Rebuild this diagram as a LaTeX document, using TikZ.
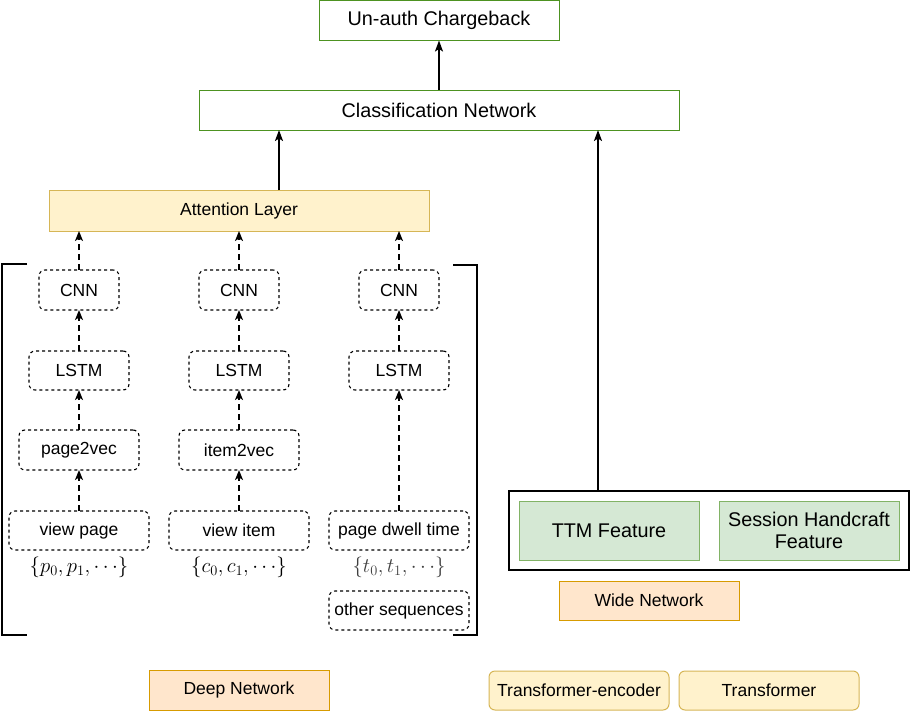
\documentclass[tikz,border=0pt]{standalone}
\usepackage{fontspec}
\setmainfont{Liberation Sans}
\usetikzlibrary{arrows.meta}
\definecolor{grnline}{RGB}{77,146,33}
\definecolor{yelfill}{RGB}{255,242,204}
\definecolor{yelline}{RGB}{214,182,86}
\definecolor{orfill}{RGB}{255,230,204}
\definecolor{orline}{RGB}{215,155,0}
\definecolor{gfill}{RGB}{213,232,212}
\definecolor{gline}{RGB}{130,179,102}
\begin{document}
\begin{tikzpicture}[x=1pt,y=-1pt,
  base/.style={inner sep=0pt,outer sep=0pt,align=center,font=\fontsize{17.5}{21}\selectfont},
  big/.style={base,font=\fontsize{19.8}{23}\selectfont},
  topbox/.style={big,draw=grnline,line width=1pt,fill=white},
  attbox/.style={base,draw=yelline,line width=1pt,fill=yelfill},
  netbox/.style={base,draw=orline,line width=1pt,fill=orfill},
  featbox/.style={big,draw=gline,line width=1pt,fill=gfill},
  trbox/.style={base,draw=yelline,line width=1pt,fill=yelfill,rounded corners=6pt},
  dbox/.style={base,draw=black,line width=1.1pt,dash pattern=on 3pt off 3pt,rounded corners=6pt},
  solidarr/.style={draw=black,line width=1.8pt,-{Stealth[length=11pt,width=8pt,inset=2.5pt]}},
  dasharr/.style={draw=black,line width=1.5pt,dash pattern=on 6pt off 4pt,-{Stealth[length=10pt,width=8pt,inset=2.5pt]}},
  bracket/.style={draw=black,line width=2pt},
  mathlbl/.style={inner sep=0pt,font=\fontsize{20}{24}\selectfont}
]
\useasboundingbox (0,0) rectangle (910,712);

% top
\node[topbox,minimum width=240pt,minimum height=40pt] (ua) at (439,20.5) {Un-auth Chargeback};
\node[topbox,minimum width=480pt,minimum height=40pt] (cls) at (439,110) {Classification Network};
\node[attbox,minimum width=380pt,minimum height=41pt] (att) at (239,210.5) {Attention Layer};

% columns
\foreach \n/\x in {1/79,2/239,3/399}{
  \node[dbox,minimum width=80pt,minimum height=40pt] (cnn\n) at (\x,290) {CNN};
  \node[dbox,minimum width=100pt,minimum height=39pt] (lstm\n) at (\x,370.5) {LSTM};
}
\node[dbox,minimum width=120pt,minimum height=40pt] (p2v) at (79,450) {page2vec};
\node[dbox,minimum width=120pt,minimum height=40pt] (i2v) at (239,450) {item2vec};
\node[dbox,minimum width=140pt,minimum height=39pt] (vp) at (79,530.5) {view page};
\node[dbox,minimum width=140pt,minimum height=39pt] (vi) at (239,530.5) {view item};
\node[dbox,minimum width=140pt,minimum height=39pt] (pdt) at (399,530.5) {page dwell time};
\node[dbox,minimum width=140pt,minimum height=39pt] (os) at (399,610.5) {other sequences};
\node[mathlbl] (m1) at (79,567.5) {$\{p_0,p_1,\cdots\}$};
\node[mathlbl] (m2) at (239,567.5) {$\{c_0,c_1,\cdots\}$};
\node[mathlbl,text=black!75] (m3) at (399,567.5) {$\{t_0,t_1,\cdots\}$};

% brackets
\draw[bracket] (27,264) -- (2,264) -- (2,635) -- (27,635);
\draw[bracket] (453,265) -- (477,265) -- (477,635) -- (453,635);

\node[netbox,minimum width=180pt,minimum height=40pt] (deep) at (239,690) {Deep Network};

% wide part
\node[draw=black,line width=1.5pt,minimum width=400pt,minimum height=79pt,inner sep=0pt,outer sep=0pt] (wout) at (709,530.5) {};
\node[featbox,minimum width=180pt,minimum height=59pt] (ttm) at (609,530.5) {TTM Feature};
\node[featbox,minimum width=180pt,minimum height=59pt] (shf) at (809,530.5) {Session Handcraft\\[-1pt]Feature};
\node[netbox,minimum width=180pt,minimum height=39pt] (wide) at (649,600.5) {Wide Network};
\node[trbox,minimum width=180pt,minimum height=39pt] (te) at (579,690.5) {Transformer-encoder};
\node[trbox,minimum width=180pt,minimum height=39pt] (tr) at (769,690.5) {Transformer};

% connectors
\coordinate (attx) at (279,0);
\coordinate (widex) at (598,0);
\draw[solidarr] (cls) -- (ua);
\draw[solidarr] (att.north -| attx) -- (cls.south -| attx);
\draw[solidarr] (wout.north -| widex) -- (cls.south -| widex);
\foreach \n in {1,2,3}{
  \draw[dasharr] (cnn\n.north) -- (cnn\n.north |- att.south);
  \draw[dasharr] (lstm\n) -- (cnn\n);
}
\draw[dasharr] (p2v) -- (lstm1);
\draw[dasharr] (i2v) -- (lstm2);
\draw[dasharr] (vp) -- (p2v);
\draw[dasharr] (vi) -- (i2v);
\draw[dasharr] (pdt) -- (lstm3);
\end{tikzpicture}
\end{document}
